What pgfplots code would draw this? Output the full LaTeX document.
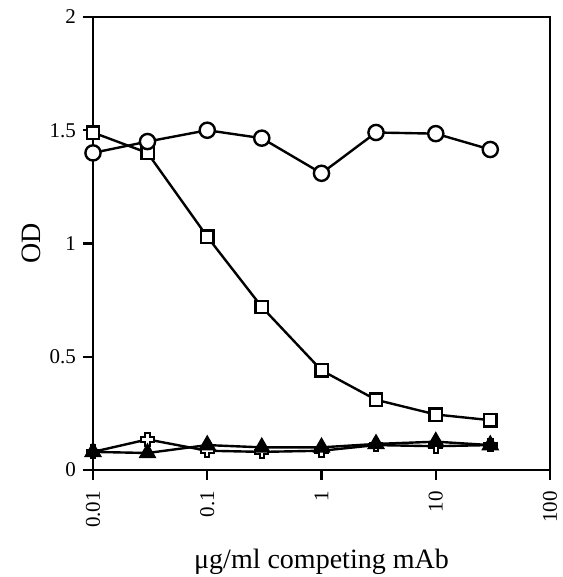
\documentclass[border=0pt]{standalone}
\usepackage{pgfplots}
\pgfplotsset{compat=1.18}
\usepackage{fontspec}
\setmainfont{Liberation Serif}
\pgfdeclareplotmark{ocross}{%
  \pgfpathmoveto{\pgfqpoint{-0.35\pgfplotmarksize}{\pgfplotmarksize}}%
  \pgfpathlineto{\pgfqpoint{0.35\pgfplotmarksize}{\pgfplotmarksize}}%
  \pgfpathlineto{\pgfqpoint{0.35\pgfplotmarksize}{0.35\pgfplotmarksize}}%
  \pgfpathlineto{\pgfqpoint{\pgfplotmarksize}{0.35\pgfplotmarksize}}%
  \pgfpathlineto{\pgfqpoint{\pgfplotmarksize}{-0.35\pgfplotmarksize}}%
  \pgfpathlineto{\pgfqpoint{0.35\pgfplotmarksize}{-0.35\pgfplotmarksize}}%
  \pgfpathlineto{\pgfqpoint{0.35\pgfplotmarksize}{-\pgfplotmarksize}}%
  \pgfpathlineto{\pgfqpoint{-0.35\pgfplotmarksize}{-\pgfplotmarksize}}%
  \pgfpathlineto{\pgfqpoint{-0.35\pgfplotmarksize}{-0.35\pgfplotmarksize}}%
  \pgfpathlineto{\pgfqpoint{-\pgfplotmarksize}{-0.35\pgfplotmarksize}}%
  \pgfpathlineto{\pgfqpoint{-\pgfplotmarksize}{0.35\pgfplotmarksize}}%
  \pgfpathlineto{\pgfqpoint{-0.35\pgfplotmarksize}{0.35\pgfplotmarksize}}%
  \pgfpathclose
  \pgfusepathqfillstroke
}
\begin{document}
\begin{tikzpicture}
\begin{axis}[
  scale only axis,
  width=228.5pt, height=226.5pt,
  xmode=log, xmin=0.01, xmax=100, ymin=0, ymax=2,
  xminorticks=false,
  xtick={0.01,0.1,1,10,100},
  xticklabels={0.01,0.1,1,10,100},
  ytick={0,0.5,1,1.5,2},
  yticklabels={0,0.5,1,1.5,2},
  xtick pos=left, ytick pos=left,
  tick align=outside,
  major tick length=5pt,
  axis line style={line width=1.2pt},
  every tick/.style={line width=1.2pt, black},
  xticklabel style={rotate=90, anchor=east, xshift=-2pt, font=\fontsize{10.5}{12}\selectfont},
  yticklabel style={font=\fontsize{10.5}{12}\selectfont},
  /pgf/number format/assume math mode=true,
  xlabel={μg/ml competing mAb},
  ylabel={OD},
  xlabel style={font=\fontsize{14}{16}\selectfont, at={(axis description cs:0.5,0)}, anchor=base, yshift=-49pt},
  ylabel style={font=\fontsize{14}{16}\selectfont, at={(axis description cs:0,0.5)}, anchor=center, yshift=31pt},
  every axis plot/.append style={line width=1.2pt, black},
]
% open cross
\addplot[mark=ocross, mark size=3.2pt, mark options={fill=white, line width=1pt}] coordinates {
(0.01,0.08) (0.03,0.135) (0.1,0.085) (0.3,0.08) (1,0.085) (3,0.11) (10,0.105) (30,0.11)};
% filled triangle
\addplot[mark=triangle*, mark size=4pt, mark options={fill=black}] coordinates {
(0.01,0.08) (0.03,0.075) (0.1,0.11) (0.3,0.10) (1,0.10) (3,0.115) (10,0.125) (30,0.11)};
% squares
\addplot[mark=square*, mark size=3.1pt, mark options={fill=white}] coordinates {
(0.01,1.49) (0.03,1.40) (0.1,1.03) (0.3,0.72) (1,0.44) (3,0.31) (10,0.245) (30,0.22)};
% circles
\addplot[mark=*, mark size=3.8pt, mark options={fill=white}] coordinates {
(0.01,1.40) (0.03,1.45) (0.1,1.50) (0.3,1.465) (1,1.31) (3,1.49) (10,1.485) (30,1.415)};
\end{axis}
\pgfresetboundingbox
\path[use as bounding box] ([shift={(-46.5pt,-53.5pt)}]current axis.south west) rectangle ++(281pt,288.5pt);
\end{tikzpicture}
\end{document}
